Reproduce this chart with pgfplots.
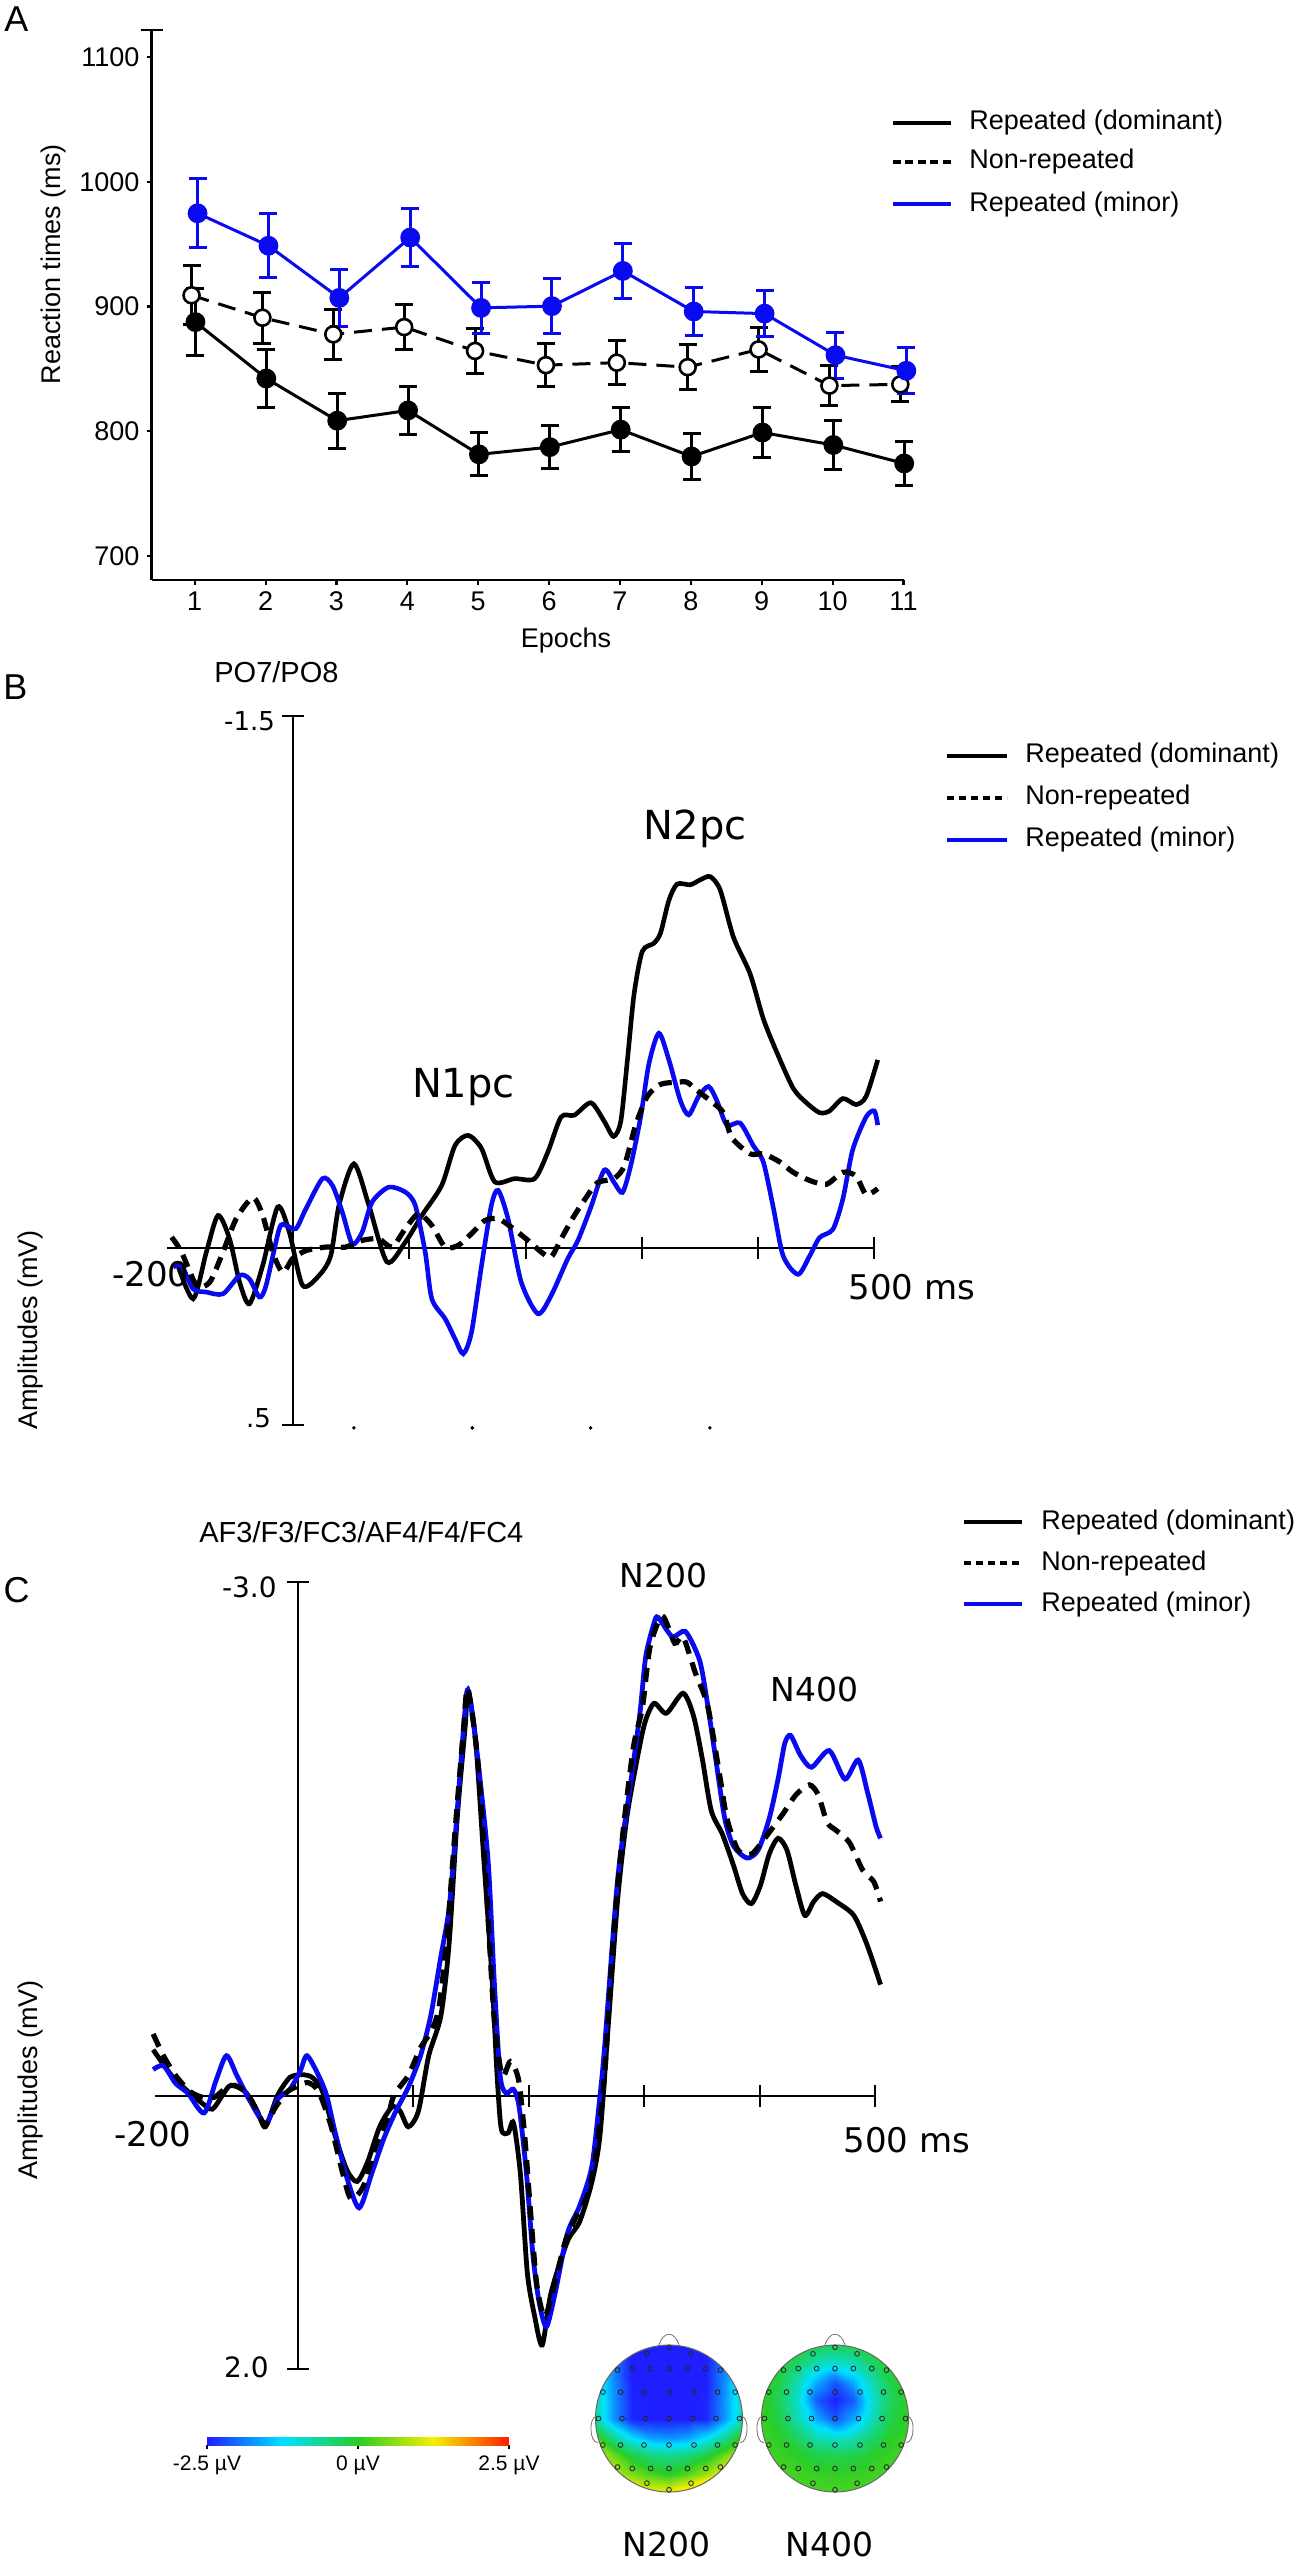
\documentclass[border=0pt]{standalone}
\usepackage{fontspec}
\setmainfont{Liberation Sans}
\newfontfamily\dejavu{DejaVu Sans}
\usepackage{pgfplots}
\pgfplotsset{compat=1.18}
\pgfplotsset{colormap={topo}{rgb255=(30,30,255) rgb255=(0,225,255) rgb255=(40,205,40) rgb255=(245,240,0) rgb255=(255,30,0)}}
\definecolor{myblue}{RGB}{10,10,240}
\newcommand{\fs}[1]{\fontsize{#1pt}{#1pt}\selectfont}
\begin{document}
\begin{tikzpicture}
\path[use as bounding box] (0,0) rectangle (649pt,-1280pt);

% ================= Panel A =================
\node[font=\fs{18}] at (8.25pt,-9.75pt) {A};
\begin{axis}[at={(75.75pt,-290pt)}, anchor=south west, scale only axis,
  width=376pt, height=275pt, xmin=0.39, xmax=11, ymin=680.8, ymax=1121.6,
  axis lines*=left, axis line style={line width=1.1pt},
  tick style={line width=1.1pt, black}, tick align=outside, major tick length=2.5pt,
  xtick={1,...,11}, ytick={700,800,...,1100},
  ticklabel style={font=\fs{13.5}},
  /pgf/number format/assume math mode=true, /pgf/number format/1000 sep={},
  clip=false]
\addplot[black, line width=1.5pt, dash pattern=on 9pt off 5pt, mark=*, mark size=4pt,
  mark options={solid, fill=white, line width=1.3pt},
  error bars/.cd, y dir=both, y explicit, error bar style={solid, line width=1.5pt},
  error mark options={rotate=90, mark size=4.5pt, line width=1.5pt, solid}]
 coordinates {(0.955,909) +- (0,23.7) (1.955,891) +- (0,20.5) (2.955,877.7) +- (0,20)
 (3.955,883.5) +- (0,18.3) (4.955,864.4) +- (0,18) (5.955,853) +- (0,17)
 (6.955,855) +- (0,17.6) (7.955,851.4) +- (0,18) (8.955,865.6) +- (0,17.3)
 (9.955,836.6) +- (0,15.8) (10.955,837.6) +- (0,14)};
\addplot[black, line width=1.5pt, mark=*, mark size=4.2pt, mark options={solid, fill=black},
  error bars/.cd, y dir=both, y explicit, error bar style={line width=1.5pt},
  error mark options={rotate=90, mark size=4.5pt, line width=1.5pt}]
 coordinates {(1.01,887.5) +- (0,27) (2.01,842.3) +- (0,23.6) (3.01,808.5) +- (0,22)
 (4.01,816.7) +- (0,19) (5.01,781.5) +- (0,17.2) (6.01,787.3) +- (0,17.4)
 (7.01,801.3) +- (0,17.5) (8.01,779.8) +- (0,18.6) (9.01,799) +- (0,20.3)
 (10.01,789) +- (0,20) (11.01,774.2) +- (0,17.5)};
\addplot[myblue, line width=1.5pt, mark=*, mark size=4.2pt, mark options={solid, fill=myblue},
  error bars/.cd, y dir=both, y explicit, error bar style={line width=1.5pt},
  error mark options={rotate=90, mark size=4.5pt, line width=1.5pt}]
 coordinates {(1.04,974.7) +- (0,27.8) (2.04,948.7) +- (0,25.8) (3.04,906.9) +- (0,22.9)
 (4.04,955.3) +- (0,23.5) (5.04,898.9) +- (0,20.6) (6.04,900.3) +- (0,22.2)
 (7.04,928.5) +- (0,21.7) (8.04,896) +- (0,19.5) (9.04,894.3) +- (0,18.5)
 (10.04,861) +- (0,18.5) (11.04,848.5) +- (0,18.3)};
\draw[line width=1.1pt] (axis cs:0.39,1121.6) ++(-5.5pt,0pt) -- ++(11pt,0pt);
\end{axis}
\node[font=\fs{13.5}, anchor=base] at (283pt,-323.5pt) {Epochs};
\node[font=\fs{13.5}, anchor=base, rotate=90] at (30.5pt,-132pt) {Reaction times (ms)};
% legend A
\draw[black, line width=2pt] (446.5pt,-61.35pt) -- (475.5pt,-61.35pt);
\draw[black, line width=2pt, dash pattern=on 4pt off 2.2pt] (446.5pt,-81pt) -- (475.5pt,-81pt);
\draw[myblue, line width=2pt] (446.5pt,-102.2pt) -- (475.5pt,-102.2pt);
\node[font=\fs{13.5}, anchor=west, inner sep=0pt] at (484.5pt,-61.35pt) {Repeated (dominant)};
\node[font=\fs{13.5}, anchor=west, inner sep=0pt] at (484.5pt,-81pt) {Non-repeated};
\node[font=\fs{13.5}, anchor=west, inner sep=0pt] at (484.5pt,-102.2pt) {Repeated (minor)};

% ================= Panel B =================
\node[font=\fs{18}] at (7.75pt,-343.5pt) {B};
\node[font=\fs{14.5}, anchor=base west, inner sep=0pt] at (107pt,-341pt) {PO7/PO8};
\begin{axis}[at={(83.5pt,-712.5pt)}, anchor=south west, scale only axis,
  width=353.5pt, height=354.5pt, xmin=-108.7, xmax=500, ymin=-1.5, ymax=0.5, y dir=reverse,
  axis lines*=center, axis line style={-, line width=1pt},
  tick style={line width=1pt, black}, tick align=center, major tick length=11pt,
  xtick={100,200,300,400,500}, ytick={-1.5,0.5}, xticklabels={}, yticklabels={},
  clip=false]
\addplot[black, line width=2.3pt, smooth, tension=0.45] coordinates {
(-100.4,0.040) (-86.2,0.144) (-74.8,0.012) (-64.8,-0.091) (-54.8,-0.025) (-46.2,0.097)
(-37.7,0.158) (-26.3,0.050) (-13.4,-0.115) (-3.4,-0.044) (8.0,0.106) (22.3,0.078)
(32.3,0.022) (39.4,-0.120) (52.2,-0.237) (65.1,-0.120) (80.7,0.040) (96.5,-0.016)
(110.7,-0.091) (127.8,-0.176) (139.3,-0.289) (150.7,-0.317) (162.1,-0.280) (173.5,-0.186)
(190.6,-0.195) (207.8,-0.195) (219.2,-0.270) (230.6,-0.369) (242,-0.374) (256.3,-0.409)
(267.7,-0.357) (275.7,-0.314) (282,-0.357) (287.7,-0.530) (293.4,-0.715) (300.5,-0.836)
(310.5,-0.859) (316.2,-0.888) (323.4,-0.980) (330.5,-1.026) (341.9,-1.024) (350.4,-1.038)
(359,-1.047) (367.6,-1.009) (379,-0.876) (393.3,-0.773) (404.7,-0.646) (416.1,-0.553)
(430.4,-0.450) (441.8,-0.409) (453.2,-0.381) (461.7,-0.386) (473.2,-0.421) (484.6,-0.404)
(493.2,-0.427) (503.2,-0.530)};
\addplot[myblue, line width=2.3pt, smooth, tension=0.45] coordinates {
(-103.3,0.055) (-96.2,0.050) (-86.2,0.116) (-74.8,0.125) (-60.5,0.130) (-46.2,0.078)
(-37.7,0.088) (-29.1,0.139) (-23.4,0.106) (-12,-0.054) (-6.3,-0.063) (2.3,-0.054)
(10.9,-0.110) (25.1,-0.195) (33.7,-0.176) (42.2,-0.101) (50.8,-0.011) (59.3,-0.044)
(67.9,-0.129) (82.2,-0.171) (96.5,-0.157) (105,-0.12) (113.6,0.012) (119.3,0.144)
(130.7,0.2) (139.3,0.257) (146.4,0.299) (153.5,0.238) (162.1,0.050) (170.6,-0.12)
(176.4,-0.162) (184.9,-0.082) (196.3,0.097) (210.6,0.186) (222,0.135) (236.3,0.031)
(245,-0.02) (256.3,-0.115) (267.7,-0.219) (276.3,-0.184) (283.4,-0.156) (290.5,-0.231)
(299.1,-0.369) (306.2,-0.519) (314.8,-0.605) (323.4,-0.530) (333.3,-0.415) (340.5,-0.375)
(349,-0.427) (357.6,-0.455) (364.7,-0.415) (373.3,-0.346) (384.7,-0.352) (396.1,-0.288)
(404.7,-0.242) (413.2,-0.115) (421.8,0.023) (434.6,0.075) (444.6,0.023) (453.2,-0.029)
(464.6,-0.052) (473.2,-0.138) (481.7,-0.277) (493.2,-0.369) (500.3,-0.386) (503.2,-0.346)};
\addplot[black, line width=2.6pt, dash pattern=on 6.5pt off 4pt, smooth, tension=0.45] coordinates {
(-104.7,-0.030) (-96.2,0.012) (-83.3,0.106) (-71.9,0.097) (-60.5,0.012) (-49.1,-0.082)
(-34.8,-0.141) (-26.3,-0.091) (-17.7,0.012) (-9.1,0.069) (-0.6,0.031) (10.9,0.008)
(28,-0.002) (45.1,-0.002) (59.3,-0.021) (73.6,-0.025) (85,-0.002) (96.5,-0.054)
(107.9,-0.096) (119.3,-0.063) (130.7,-0.002) (142.1,-0.007) (153.5,-0.040) (165,-0.077)
(176.4,-0.082) (187.8,-0.058) (202,-0.021) (213.5,0.012) (222,0.026) (230.6,-0.025)
(242,-0.091) (253.4,-0.148) (262,-0.184) (276.3,-0.196) (285,-0.231) (294.8,-0.346)
(304.8,-0.427) (316.2,-0.461) (330.5,-0.467) (339,-0.467) (347.6,-0.444) (359,-0.415)
(370.4,-0.381) (377.5,-0.311) (393.3,-0.265) (404.7,-0.265) (419,-0.242) (430.4,-0.213)
(444.6,-0.190) (458.9,-0.179) (473.2,-0.213) (484.6,-0.202) (493.2,-0.150) (503.2,-0.167)};
\addplot[only marks, mark=*, mark size=0.7pt, black] coordinates {(52.2,0.508) (154.1,0.508) (256,0.508) (358.7,0.508)};
\node[anchor=base east, inner sep=0pt, font={\dejavu\fs{13}}, xshift=-9pt, yshift=-7pt] at (axis cs:0,-1.5) {-1.5};
\node[anchor=base east, inner sep=0pt, font={\dejavu\fs{13}}, xshift=-11pt, yshift=-1pt] at (axis cs:0,0.5) {.5};
\node[anchor=base east, inner sep=0pt, font={\dejavu\fs{17}}, xshift=11.5pt, yshift=-19.5pt] at (axis cs:-108.7,0) {-200};
\node[anchor=base west, inner sep=0pt, font={\dejavu\fs{17}}, xshift=-13pt, yshift=-26pt] at (axis cs:500,0) {500 ms};
\node[anchor=base west, inner sep=0pt, font={\dejavu\fs{20}}] at (axis cs:101.9,-0.424) {N1pc};
\node[anchor=base west, inner sep=0pt, font={\dejavu\fs{20}}] at (axis cs:301.4,-1.153) {N2pc};
\end{axis}
\node[font=\fs{13.5}, anchor=base, rotate=90] at (19pt,-665pt) {Amplitudes (mV)};
% legend B
\draw[black, line width=2pt] (473.5pt,-378pt) -- (503.5pt,-378pt);
\draw[black, line width=2pt, dash pattern=on 3.6pt off 2.4pt] (473.5pt,-399pt) -- (503.5pt,-399pt);
\draw[myblue, line width=2pt] (473.5pt,-420pt) -- (503.5pt,-420pt);
\node[font=\fs{13.5}, anchor=west, inner sep=0pt] at (512.5pt,-378pt) {Repeated (dominant)};
\node[font=\fs{13.5}, anchor=west, inner sep=0pt] at (512.5pt,-399pt) {Non-repeated};
\node[font=\fs{13.5}, anchor=west, inner sep=0pt] at (512.5pt,-420pt) {Repeated (minor)};

% ================= Panel C =================
\node[font=\fs{18}] at (8.25pt,-795pt) {C};
\node[font=\fs{14.5}, anchor=base west, inner sep=0pt] at (99.5pt,-771pt) {AF3/F3/FC3/AF4/F4/FC4};
\begin{axis}[at={(77.5pt,-1184.5pt)}, anchor=south west, scale only axis,
  width=360pt, height=393.5pt, xmin=-124, xmax=500, ymin=-3, ymax=1.594, y dir=reverse,
  axis lines*=center, axis line style={-, line width=1pt},
  tick style={line width=1pt, black}, tick align=center, major tick length=11pt,
  xtick={100,200,300,400,500}, ytick={-3,1.594}, xticklabels={}, yticklabels={},
  clip=false]
\addplot[black, line width=2.4pt, smooth, tension=0.45] coordinates {
(-125.6,-0.270) (-109.7,-0.120) (-95.5,-0.027) (-83.2,0.042) (-74.3,0.077) (-65.5,-0.004)
(-58.4,-0.062) (-46,-0.027) (-35.4,0.088) (-28.3,0.180) (-17.7,-0.004) (-7.1,-0.108)
(3.5,-0.124) (12.3,-0.108) (21.1,-0.027) (31.8,0.226) (42.4,0.434) (51.2,0.499)
(60.1,0.388) (70.7,0.180) (81.3,0.065) (88.4,0.088) (95.5,0.180) (104.3,0.088)
(113.2,-0.235) (123.7,-0.466) (130.8,-0.881) (137.9,-1.619) (145,-2.173) (147.1,-2.370)
(153.8,-2.081) (160.9,-1.389) (168,-0.696) (172.5,-0.120) (176.1,0.192) (182.1,0.215)
(186.7,0.157) (192.7,0.457) (198.7,1.034) (205.1,1.288) (211.6,1.454) (219.2,1.150)
(233.4,0.849) (244,0.734) (254.6,0.503) (261.7,0.226) (269.4,-0.466) (277.1,-1.158)
(284.8,-1.619) (292.5,-1.919) (300.3,-2.173) (308.5,-2.292) (319.2,-2.234) (333.6,-2.351)
(342.7,-2.219) (350.4,-1.965) (358.1,-1.665) (367.8,-1.527) (377.5,-1.343) (385.2,-1.181)
(392.9,-1.123) (400.6,-1.227) (408.3,-1.412) (416,-1.504) (423.7,-1.435) (431.5,-1.227)
(439.2,-1.054) (446.9,-1.135) (454.6,-1.181) (466.2,-1.135) (481.6,-1.054) (493.2,-0.881)
(504.8,-0.650)};
\addplot[myblue, line width=2.4pt, smooth, tension=0.45] coordinates {
(-125.6,-0.154) (-116.7,-0.177) (-106.2,-0.074) (-95.5,-0.016) (-81.4,0.099) (-70.8,-0.097)
(-62,-0.235) (-53.1,-0.120) (-42.5,0.019) (-28.3,0.162) (-17.7,0.019) (-7.1,-0.039)
(1.7,-0.143) (7.7,-0.235) (17.7,-0.120) (24.7,-0.004) (31.8,0.203) (42.4,0.480)
(53,0.653) (63.6,0.457) (74.3,0.249) (84.8,0.088) (95.5,-0.050) (106.1,-0.235)
(114.9,-0.466) (123.7,-0.812) (130.8,-1.089) (136.1,-1.504) (143.2,-2.127) (147.1,-2.370)
(153.8,-2.081) (164.5,-1.389) (169.8,-0.696) (175.1,-0.120) (180.3,-0.016) (186.7,-0.039)
(191.6,0.065) (198,0.457) (203.4,0.919) (208.7,1.196) (215.2,1.347) (222.8,1.150)
(233.4,0.803) (244,0.642) (254.6,0.411) (261.7,-0.004) (265.6,-0.281) (277.1,-1.273)
(288.7,-1.850) (296.4,-2.242) (301.3,-2.565) (308.5,-2.760) (312,-2.794) (324.3,-2.681)
(335.7,-2.711) (347.9,-2.545) (354.3,-2.312) (362,-1.965) (369.8,-1.619) (377.5,-1.458)
(389,-1.389) (398.7,-1.435) (408.3,-1.619) (416,-1.850) (421.8,-2.058) (426.9,-2.104)
(435.4,-1.989) (445,-1.919) (460.4,-2.016) (473.9,-1.850) (485.4,-1.961) (493.2,-1.781)
(500.9,-1.573) (504.8,-1.504)};
\addplot[black, line width=2.6pt, dash pattern=on 7pt off 4.5pt, smooth, tension=0.45] coordinates {
(-125.6,-0.362) (-116.7,-0.235) (-106.2,-0.120) (-93.8,-0.027) (-83.2,0.007) (-72.5,0.007)
(-62,-0.050) (-54.9,-0.062) (-44.3,-0.016) (-35.4,0.088) (-28.3,0.169) (-19.5,0.065)
(-8.8,-0.027) (1.7,-0.062) (8.8,-0.078) (17.7,-0.027) (28.3,0.169) (38.9,0.457)
(45.9,0.600) (56.6,0.527) (67.2,0.295) (77.8,0.123) (83.1,-0.004) (95.5,-0.120)
(106.1,-0.281) (114.9,-0.374) (122,-0.512) (129,-0.927) (136.1,-1.551) (143.2,-2.127)
(147.1,-2.380) (155.6,-1.965) (162.7,-1.273) (169.8,-0.466) (176.8,-0.120) (183.9,-0.200)
(191,-0.097) (196.3,0.226) (201.6,0.688) (206.9,1.103) (213.9,1.288) (222.8,1.080)
(231.6,0.849) (240.5,0.711) (251.1,0.573) (258.1,0.342) (265.6,-0.120) (273.3,-0.927)
(281,-1.504) (290.6,-2.035) (298.4,-2.266) (305,-2.62) (315.7,-2.802) (326.4,-2.643)
(333.6,-2.681) (344.4,-2.468) (355.1,-2.273) (365.9,-1.850) (371.7,-1.619) (381.3,-1.435)
(392.9,-1.412) (404.4,-1.504) (419.8,-1.643) (431.5,-1.758) (443.1,-1.816) (450.8,-1.758)
(458.5,-1.597) (466.2,-1.551) (477.7,-1.481) (489.3,-1.319) (499,-1.250) (504.8,-1.135)};
\node[anchor=base east, inner sep=0pt, font={\dejavu\fs{14}}, xshift=-10.5pt, yshift=-7.5pt] at (axis cs:0,-3) {-3.0};
\node[anchor=base east, inner sep=0pt, font={\dejavu\fs{14}}, xshift=-14.5pt, yshift=-4pt] at (axis cs:0,1.594) {2.0};
\node[anchor=base east, inner sep=0pt, font={\dejavu\fs{17}}, xshift=18.5pt, yshift=-25.5pt] at (axis cs:-124,0) {-200};
\node[anchor=base west, inner sep=0pt, font={\dejavu\fs{17}}, xshift=-16pt, yshift=-28.5pt] at (axis cs:500,0) {500 ms};
\node[anchor=base west, inner sep=0pt, font={\dejavu\fs{16.5}}] at (axis cs:278.2,-2.966) {N200};
\node[anchor=base west, inner sep=0pt, font={\dejavu\fs{16.5}}] at (axis cs:409,-2.300) {N400};
\end{axis}
\node[font=\fs{13.5}, anchor=base, rotate=90] at (19pt,-1040pt) {Amplitudes (mV)};
% legend C
\draw[black, line width=2pt] (482pt,-761pt) -- (511pt,-761pt);
\draw[black, line width=2pt, dash pattern=on 3.6pt off 2.4pt] (482pt,-781.5pt) -- (511pt,-781.5pt);
\draw[myblue, line width=2pt] (482pt,-802pt) -- (511pt,-802pt);
\node[font=\fs{13.5}, anchor=west, inner sep=0pt] at (520.5pt,-761pt) {Repeated (dominant)};
\node[font=\fs{13.5}, anchor=west, inner sep=0pt] at (520.5pt,-781.5pt) {Non-repeated};
\node[font=\fs{13.5}, anchor=west, inner sep=0pt] at (520.5pt,-802pt) {Repeated (minor)};

% colorbar
\begin{axis}[at={(103.5pt,-1222.5pt)}, anchor=south west, scale only axis,
  width=151pt, height=4pt, xmin=-2.5, xmax=2.5, ymin=0, ymax=1,
  axis y line=none, axis x line*=bottom, axis line style={line width=1pt},
  xtick={-2.5,0,2.5}, xticklabels={-2.5 µV,0 µV,2.5 µV},
  ticklabel style={font=\fs{10.5}}, tick align=outside, major tick length=2pt,
  tick style={black, line width=0.6pt},
  colormap name=topo, point meta min=-2.5, point meta max=2.5]
\addplot[surf, shader=interp, mesh/cols=11, point meta=explicit] table[meta=c] {
x y c
-2.5 0 -2.5
-2 0 -2
-1.5 0 -1.5
-1 0 -1
-0.5 0 -0.5
0 0 0
0.5 0 0.5
1 0 1
1.5 0 1.5
2 0 2
2.5 0 2.5
-2.5 1 -2.5
-2 1 -2
-1.5 1 -1.5
-1 1 -1
-0.5 1 -0.5
0 1 0
0.5 1 0.5
1 1 1
1.5 1 1.5
2 1 2
2.5 1 2.5
};
\end{axis}

% topomap N200
\begin{axis}[at={(334.5pt,-1209.25pt)}, anchor=center, scale only axis,
  width=73.5pt, height=73.5pt, xmin=-1, xmax=1, ymin=-1, ymax=1, hide axis, clip=false,
  colormap name=topo, point meta min=-2.5, point meta max=2.5]
\addplot[surf, shader=interp, mesh/cols=9, point meta=explicit] table[meta=c] {
x y c
-1 -1 2.2
-0.75 -1 1.9
-0.5 -1 1.5
-0.25 -1 1.2
0 -1 1.2
0.25 -1 1.6
0.5 -1 2.2
0.75 -1 2.5
1 -1 2.5
-1 -0.75 1.6
-0.75 -0.75 0.9
-0.5 -0.75 0.5
-0.25 -0.75 0.2
0 -0.75 0.0
0.25 -0.75 0.25
0.5 -0.75 0.7
0.75 -0.75 1.3
1 -0.75 2.0
-1 -0.5 1.0
-0.75 -0.5 0.4
-0.5 -0.5 -0.2
-0.25 -0.5 -0.5
0 -0.5 -0.6
0.25 -0.5 -0.5
0.5 -0.5 -0.2
0.75 -0.5 0.4
1 -0.5 1.0
-1 -0.25 0.2
-0.75 -0.25 -0.7
-0.5 -0.25 -1.3
-0.25 -0.25 -1.7
0 -0.25 -1.8
0.25 -0.25 -1.7
0.5 -0.25 -1.3
0.75 -0.25 -0.7
1 -0.25 0.2
-1 0 -0.8
-0.75 0 -1.76
-0.5 0 -2.45
-0.25 0 -2.5
0 0 -2.5
0.25 0 -2.5
0.5 0 -2.45
0.75 0 -1.76
1 0 -0.8
-1 0.25 -0.8
-0.75 0.25 -1.76
-0.5 0.25 -2.45
-0.25 0.25 -2.5
0 0.25 -2.5
0.25 0.25 -2.5
0.5 0.25 -2.45
0.75 0.25 -1.76
1 0.25 -0.8
-1 0.5 -0.9
-0.75 0.5 -1.8
-0.5 0.5 -2.5
-0.25 0.5 -2.5
0 0.5 -2.5
0.25 0.5 -2.5
0.5 0.5 -2.5
0.75 0.5 -1.8
1 0.5 -0.9
-1 0.75 -1.0
-0.75 0.75 -1.9
-0.5 0.75 -2.5
-0.25 0.75 -2.5
0 0.75 -2.5
0.25 0.75 -2.5
0.5 0.75 -2.5
0.75 0.75 -1.9
1 0.75 -1.0
-1 1 -1.2
-0.75 1 -2.1
-0.5 1 -2.5
-0.25 1 -2.5
0 1 -2.5
0.25 1 -2.5
0.5 1 -2.5
0.75 1 -2.1
1 1 -1.2
};
\fill[white, even odd rule] (axis cs:-1.06,-1.06) rectangle (axis cs:1.06,1.06) (axis cs:0,0) circle[radius=36.75pt];
\draw[black!60, line width=0.5pt] (axis cs:0,0) circle[radius=36.75pt];
\draw[black!55, line width=0.4pt] (axis cs:-0.14,0.99) .. controls (axis cs:-0.08,1.2) and (axis cs:0.08,1.2) .. (axis cs:0.14,0.99);
\draw[black!55, line width=0.4pt] (axis cs:-0.99,0.03) .. controls (axis cs:-1.09,0.02) and (axis cs:-1.09,-0.32) .. (axis cs:-0.97,-0.33);
\draw[black!55, line width=0.4pt] (axis cs:0.99,0.03) .. controls (axis cs:1.09,0.02) and (axis cs:1.09,-0.32) .. (axis cs:0.97,-0.33);
\addplot[only marks, mark=o, mark size=1.2pt, mark options={draw=black!85, line width=0.4pt}] coordinates {
(0,0.97) (-0.3,0.88) (0.3,0.88)
(-0.7,0.66) (-0.5,0.68) (-0.25,0.68) (0,0.68) (0.25,0.68) (0.5,0.68) (0.7,0.66)
(-0.9,0.36) (-0.66,0.36) (-0.34,0.36) (0,0.36) (0.34,0.36) (0.66,0.36) (0.9,0.36)
(-0.96,0) (-0.64,0) (-0.32,0) (0,0) (0.32,0) (0.64,0) (0.96,0)
(-0.9,-0.36) (-0.66,-0.36) (-0.34,-0.36) (0,-0.36) (0.34,-0.36) (0.66,-0.36) (0.9,-0.36)
(-0.7,-0.66) (-0.5,-0.68) (-0.25,-0.68) (0,-0.68) (0.25,-0.68) (0.5,-0.68) (0.7,-0.66)
(-0.3,-0.88) (0.3,-0.88) (0,-0.97)};
\end{axis}

% topomap N400
\begin{axis}[at={(417.5pt,-1209.25pt)}, anchor=center, scale only axis,
  width=73.5pt, height=73.5pt, xmin=-1, xmax=1, ymin=-1, ymax=1, hide axis, clip=false,
  colormap name=topo, point meta min=-2.5, point meta max=2.5]
\addplot[surf, shader=interp, mesh/cols=9, point meta=explicit] table[meta=c] {
x y c
-1 -1 0.25
-0.75 -1 0.25
-0.5 -1 0.2
-0.25 -1 0.2
0 -1 0.2
0.25 -1 0.2
0.5 -1 0.2
0.75 -1 0.25
1 -1 0.25
-1 -0.75 0.25
-0.75 -0.75 0.2
-0.5 -0.75 0.15
-0.25 -0.75 0.09
0 -0.75 0.07
0.25 -0.75 0.09
0.5 -0.75 0.15
0.75 -0.75 0.2
1 -0.75 0.25
-1 -0.5 0.2
-0.75 -0.5 0.1
-0.5 -0.5 0
-0.25 -0.5 -0.22
0 -0.5 -0.25
0.25 -0.5 -0.22
0.5 -0.5 0
0.75 -0.5 0.1
1 -0.5 0.2
-1 -0.25 0.15
-0.75 -0.25 0
-0.5 -0.25 -0.38
-0.25 -0.25 -0.82
0 -0.25 -1.0
0.25 -0.25 -0.82
0.5 -0.25 -0.38
0.75 -0.25 0
1 -0.25 0.15
-1 0 0.09
-0.75 0 -0.22
-0.5 0 -0.82
-0.25 0 -1.6
0 0 -2.13
0.25 0 -1.6
0.5 0 -0.82
0.75 0 -0.22
1 0 0.09
-1 0.25 0.07
-0.75 0.25 -0.3
-0.5 0.25 -1.0
-0.25 0.25 -2.13
0 0.25 -2.5
0.25 0.25 -2.13
0.5 0.25 -1.0
0.75 0.25 -0.3
1 0.25 0.07
-1 0.5 0.09
-0.75 0.5 -0.22
-0.5 0.5 -0.82
-0.25 0.5 -1.6
0 0.5 -2.13
0.25 0.5 -1.6
0.5 0.5 -0.82
0.75 0.5 -0.22
1 0.5 0.09
-1 0.75 0.15
-0.75 0.75 0
-0.5 0.75 -0.38
-0.25 0.75 -0.82
0 0.75 -1.0
0.25 0.75 -0.82
0.5 0.75 -0.38
0.75 0.75 0
1 0.75 0.15
-1 1 0.2
-0.75 1 0.1
-0.5 1 0
-0.25 1 -0.22
0 1 -0.25
0.25 1 -0.22
0.5 1 0
0.75 1 0.1
1 1 0.2
};
\fill[white, even odd rule] (axis cs:-1.06,-1.06) rectangle (axis cs:1.06,1.06) (axis cs:0,0) circle[radius=36.75pt];
\draw[black!60, line width=0.5pt] (axis cs:0,0) circle[radius=36.75pt];
\draw[black!55, line width=0.4pt] (axis cs:-0.14,0.99) .. controls (axis cs:-0.08,1.2) and (axis cs:0.08,1.2) .. (axis cs:0.14,0.99);
\draw[black!55, line width=0.4pt] (axis cs:-0.99,0.03) .. controls (axis cs:-1.09,0.02) and (axis cs:-1.09,-0.32) .. (axis cs:-0.97,-0.33);
\draw[black!55, line width=0.4pt] (axis cs:0.99,0.03) .. controls (axis cs:1.09,0.02) and (axis cs:1.09,-0.32) .. (axis cs:0.97,-0.33);
\addplot[only marks, mark=o, mark size=1.2pt, mark options={draw=black!85, line width=0.4pt}] coordinates {
(0,0.97) (-0.3,0.88) (0.3,0.88)
(-0.7,0.66) (-0.5,0.68) (-0.25,0.68) (0,0.68) (0.25,0.68) (0.5,0.68) (0.7,0.66)
(-0.9,0.36) (-0.66,0.36) (-0.34,0.36) (0,0.36) (0.34,0.36) (0.66,0.36) (0.9,0.36)
(-0.96,0) (-0.64,0) (-0.32,0) (0,0) (0.32,0) (0.64,0) (0.96,0)
(-0.9,-0.36) (-0.66,-0.36) (-0.34,-0.36) (0,-0.36) (0.34,-0.36) (0.66,-0.36) (0.9,-0.36)
(-0.7,-0.66) (-0.5,-0.68) (-0.25,-0.68) (0,-0.68) (0.25,-0.68) (0.5,-0.68) (0.7,-0.66)
(-0.3,-0.88) (0.3,-0.88) (0,-0.97)};
\end{axis}
\node[font={\dejavu\fs{16.5}}, anchor=base west, inner sep=0pt] at (311pt,-1278pt) {N200};
\node[font={\dejavu\fs{16.5}}, anchor=base west, inner sep=0pt] at (392.5pt,-1278pt) {N400};
\end{tikzpicture}
\end{document}
